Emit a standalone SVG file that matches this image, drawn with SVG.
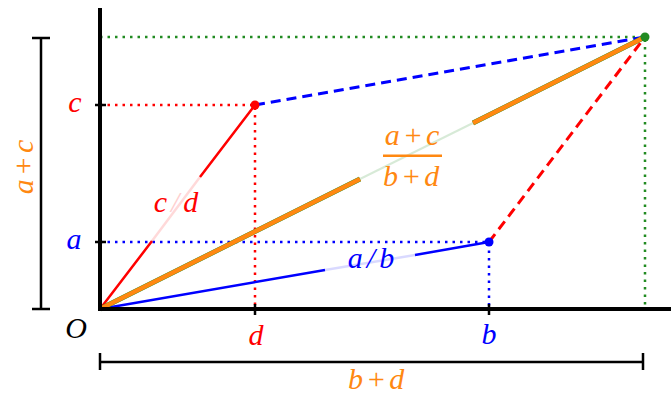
<svg xmlns="http://www.w3.org/2000/svg" width="671" height="394" viewBox="0 0 671 394">
<style>
.m{font-family:"Liberation Serif","DejaVu Serif",serif;font-style:italic;font-size:30px;text-anchor:middle}
.dot{stroke-width:2.5;stroke-dasharray:2.5 5;fill:none}
.dash{stroke-width:3;stroke-dasharray:10 6;fill:none}
.ax{stroke:#000;fill:none}
</style>
<rect width="671" height="394" fill="#fff"/>
<g id="connectors">
<path class="dot" stroke="#228b22" d="M100 37H645V309"/>
<path class="dot" stroke="#ff0000" d="M100 105H255V309"/>
<path class="dot" stroke="#0000ff" d="M100 242H489V309"/>
<path class="dash" stroke="#0000ff" d="M255 105L645 37"/>
<path class="dash" stroke="#ff0000" d="M489 242L645 37"/>
<path stroke="#ff0000" stroke-width="2.5" d="M100 309L152 241M200 177L255 105"/>
<path stroke="#ff0000" stroke-width="2.5" stroke-opacity="0.15" d="M152 241L200 177"/>
<path stroke="#0000ff" stroke-width="2.5" d="M100 309L325 270M415 255L489 242"/>
<path stroke="#0000ff" stroke-width="2.5" stroke-opacity="0.15" d="M325 270L415 255"/>
<path stroke="#228b22" stroke-width="5" d="M100 309L360 179M473 123L645 37"/>
<path stroke="#ff8811" stroke-width="4.5" d="M100 309L360 179M473 123L645 37"/>
<path stroke="#228b22" stroke-width="2" stroke-opacity="0.18" d="M360 179L473 123"/>
</g>
<g id="axes">
<path class="ax" stroke-width="4" d="M100 8V309H671"/>
<path class="ax" stroke-width="2.5" d="M95 105H106M95 242H106M255 304V315M489 304V315"/>
</g>
<g id="brackets">
<path class="ax" stroke-width="2.5" d="M41 38V309M32 38H50M32 309H50"/>
<path class="ax" stroke-width="2.5" d="M100 362H643M100 353V370M643 353V370"/>
</g>
<g id="points">
<circle cx="255" cy="105" r="4.5" fill="#ff0000"/>
<circle cx="489" cy="242" r="4.5" fill="#0000ff"/>
<circle cx="645" cy="37" r="4.5" fill="#228b22"/>
</g>
<g id="labels">
<text class="m" x="76" y="338" fill="#000">O</text>
<text class="m" x="75" y="112" fill="#ff0000">c</text>
<text class="m" x="74" y="249" fill="#0000ff">a</text>
<text class="m" x="256" y="345" fill="#ff0000">d</text>
<text class="m" x="489" y="344" fill="#0000ff">b</text>
<text class="m" x="376" y="389" fill="#ff8811">b<tspan dx="3">+</tspan><tspan dx="3">d</tspan></text>
<text class="m" transform="translate(33 167) rotate(-90)" fill="#ff8811">a<tspan dx="3">+</tspan><tspan dx="3">c</tspan></text>
<text class="m" x="176" y="212" fill="#ff0000">c<tspan dx="4" fill="#ffd0d0">/</tspan><tspan dx="4">d</tspan></text>
<text class="m" x="371" y="268" fill="#0000ff">a<tspan dx="4">/</tspan><tspan dx="4">b</tspan></text>
<g id="fraction" fill="#ff8811">
<text class="m" x="412" y="145">a<tspan dx="3">+</tspan><tspan dx="3">c</tspan></text>
<rect x="383" y="154.5" width="59" height="2.5"/>
<text class="m" x="411" y="186">b<tspan dx="3">+</tspan><tspan dx="3">d</tspan></text>
</g>
</g>
</svg>
